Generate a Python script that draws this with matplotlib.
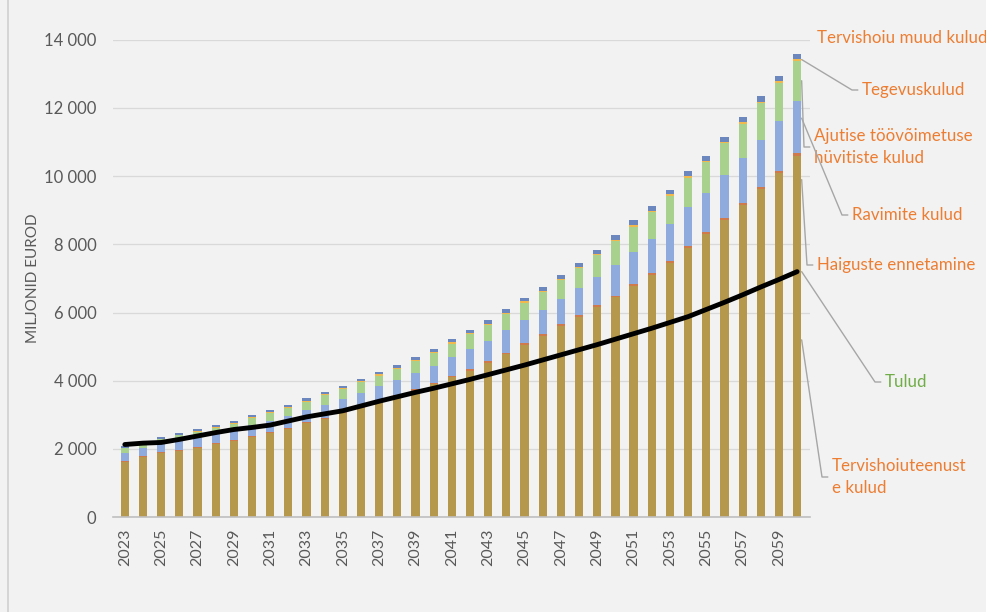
import numpy as np
import matplotlib
matplotlib.use("Agg")
import matplotlib.pyplot as plt
from matplotlib.ticker import FuncFormatter
from matplotlib.lines import Line2D

plt.rcParams['font.family'] = ['Lato', 'DejaVu Sans']

years = list(range(2023, 2061))

# miljonit eurot
tervishoiuteenused = [1620, 1760, 1880, 1950, 2030, 2140, 2230, 2340, 2460, 2590,
                      2750, 2880, 3050, 3200, 3370, 3540, 3710, 3900, 4100, 4300,
                      4520, 4780, 5050, 5320, 5600, 5880, 6160, 6450, 6780, 7100,
                      7460, 7900, 8300, 8720, 9140, 9630, 10100, 10600]
haiguste_ennetamine = [25, 25, 25, 25, 25, 25, 30, 30, 30, 30,
                       30, 30, 35, 35, 35, 35, 40, 40, 40, 45,
                       45, 45, 45, 45, 50, 50, 50, 50, 50, 50,
                       55, 55, 55, 60, 60, 65, 65, 70]
ravimid = [230, 235, 230, 265, 280, 280, 290, 320, 330, 340,
           350, 385, 385, 410, 430, 445, 480, 500, 545, 585,
           615, 650, 685, 705, 740, 780, 835, 890, 950, 1020,
           1090, 1150, 1150, 1240, 1330, 1370, 1440, 1520]
ajutine_toovoimetus = [140, 145, 150, 160, 175, 180, 190, 220, 235, 245,
                       255, 280, 280, 305, 315, 330, 355, 375, 405, 435,
                       455, 485, 510, 530, 555, 590, 630, 695, 740, 770,
                       810, 855, 900, 940, 1005, 1070, 1125, 1190]
tegevuskulud = [20, 20, 20, 20, 20, 25, 25, 25, 25, 25,
                30, 30, 30, 30, 35, 35, 35, 35, 40, 40,
                40, 40, 40, 45, 45, 45, 45, 50, 50, 50,
                50, 50, 50, 50, 50, 50, 50, 50]
muud_kulud = [45, 45, 45, 50, 50, 50, 55, 55, 60, 60,
              65, 65, 70, 70, 75, 75, 80, 80, 90, 95,
              95, 100, 100, 105, 110, 115, 120, 125, 130, 130,
              135, 140, 145, 150, 155, 155, 160, 160]
tulud = [2130, 2170, 2190, 2280, 2380, 2480, 2570, 2630, 2700, 2820,
         2940, 3030, 3120, 3260, 3400, 3530, 3660, 3780, 3910, 4040,
         4180, 4320, 4460, 4610, 4760, 4910, 5060, 5220, 5380, 5540,
         5710, 5880, 6090, 6300, 6520, 6750, 6970, 7200]

kihid = [
    (tervishoiuteenused, '#B5984C'),
    (haiguste_ennetamine, '#D0794A'),
    (ravimid, '#8FAADC'),
    (ajutine_toovoimetus, '#A9D18E'),
    (tegevuskulud, '#F2B84B'),
    (muud_kulud, '#6C87BE'),
]

bg = '#F2F2F2'
fig = plt.figure(figsize=(9.87, 6.12), dpi=100, facecolor=bg)
ax = fig.add_axes([0.1145, 0.155, 0.706, 0.78], facecolor=bg)

x = np.array(years)
bottom = np.zeros(len(years))
for vals, col in kihid:
    ax.bar(x, vals, width=0.45, bottom=bottom, color=col, zorder=2)
    bottom += np.array(vals)

ax.plot(x, tulud, color='black', lw=3.5, zorder=3, solid_capstyle='round')

ax.set_xlim(2023 - 0.65, 2060 + 0.7)
ax.set_ylim(0, 14000)
ax.set_yticks(range(0, 14001, 2000))
ax.yaxis.set_major_formatter(FuncFormatter(lambda v, p: f"{int(v):,}".replace(',', ' ')))
ax.set_xticks(years[::2])
ax.set_xticklabels([str(y) for y in years[::2]], rotation=90)
ax.tick_params(axis='both', length=0, colors='#595959')
ax.tick_params(axis='y', pad=12, labelsize=12)
ax.tick_params(axis='x', pad=8, labelsize=11.5)
ax.grid(axis='y', color='#D9D9D9', lw=0.9, zorder=0)
for s in ['top', 'right', 'left']:
    ax.spines[s].set_visible(False)
ax.spines['bottom'].set_color('#BFBFBF')
ax.spines['bottom'].set_linewidth(1.2)
ax.set_ylabel('MILJONID EUROD', color='#595959', fontsize=11, labelpad=3)

# vasak ääris
fig.add_artist(Line2D([8 / 987, 8 / 987], [0, 1], color='#D0D0D0', lw=1.2))

fig.canvas.draw()
oranz = '#ED7D31'
joon = '#A6A6A6'


def silt(tekst, y_val, tx, ty, color=oranz, ha='left'):
    # ty pildi ülaservast, teisendan joonise pikslitesse
    ty_fig = 612 - ty
    px, py = ax.transData.transform((2060 + 0.25, y_val))
    ex, ey = tx - 10, ty_fig
    nurk = np.degrees(np.arctan2(ey - py, ex - px))
    ax.annotate(tekst, xy=(2060 + 0.25, y_val), xycoords='data',
                xytext=(tx, ty_fig), textcoords='figure pixels',
                ha=ha, va='center', color=color, fontsize=12.2,
                linespacing=1.45, annotation_clip=False,
                arrowprops=dict(arrowstyle='-', color=joon, lw=1,
                                shrinkA=1, shrinkB=0,
                                connectionstyle=f"angle,angleA=0,angleB={nurk},rad=0"))


fig.text(902 / 987, 1 - 38 / 612, 'Tervishoiu muud kulud', color=oranz,
         fontsize=12.2, ha='center', va='center')
silt('Tegevuskulud', 13420, 862, 90)
silt('Ajutise töövõimetuse\nhüvitiste kulud', 12800, 814, 147)
silt('Ravimite kulud', 11700, 852, 215)
silt('Haiguste ennetamine', 9900, 817, 265)
silt('Tulud', 7200, 885, 382, color='#70AD47')
silt('Tervishoiuteenust\ne kulud', 5200, 832, 477)

fig.savefig('out.png', dpi=100, facecolor=bg)
